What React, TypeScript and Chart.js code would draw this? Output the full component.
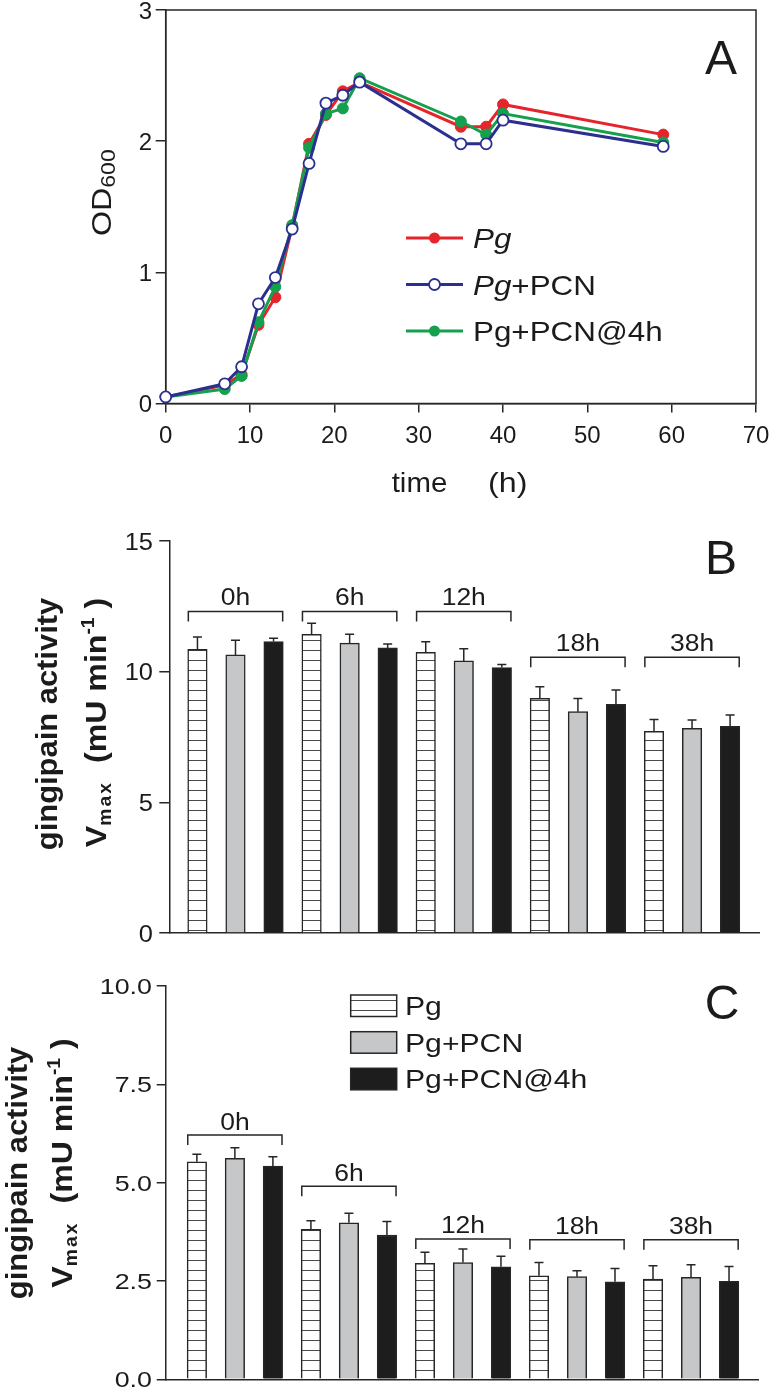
import React, { useEffect, useRef } from 'react';
import { Chart, registerables } from 'chart.js';
Chart.register(...registerables);

const FONT = "'Liberation Sans', Arial, Helvetica, sans-serif";
const INK = '#1b1b1b';
const AX = '#262626';
const RED = '#e5252b';
const BLUE = '#2b2f8f';
const GREEN = '#15a04e';
const GRAY = '#c6c7c8';
const BLACK = '#1d1d1d';

// ---------- Panel A: growth curves ----------
const timeHours = [0, 7, 9, 11, 13, 15, 17, 19, 21, 23, 35, 38, 40, 59];
const odPg = [0.05, 0.14, 0.22, 0.6, 0.81, 1.35, 1.98, 2.2, 2.38, 2.45, 2.11, 2.11, 2.28, 2.05];
const odPgPCN = [0.05, 0.15, 0.28, 0.76, 0.96, 1.33, 1.83, 2.29, 2.35, 2.45, 1.98, 1.98, 2.16, 1.96];
const odPgPCN4h = [0.05, 0.11, 0.21, 0.62, 0.89, 1.36, 1.95, 2.21, 2.25, 2.48, 2.15, 2.05, 2.21, 1.99];
const xTicksA = { min: 0, max: 70, step: 10 };
const yTicksA = { min: 0, max: 3, step: 1 };

// ---------- Panel B / C: gingipain activity ----------
const timeGroups = ['0h', '6h', '12h', '18h', '38h'];
const seriesNames = ['Pg', 'Pg+PCN', 'Pg+PCN@4h'];

const bPg = [10.85, 11.43, 10.74, 8.98, 7.72];
const bPgErr = [0.48, 0.42, 0.4, 0.44, 0.45];
const bPCN = [10.64, 11.09, 10.41, 8.47, 7.83];
const bPCNErr = [0.56, 0.34, 0.47, 0.5, 0.32];
const bPCN4h = [11.15, 10.91, 10.16, 8.75, 7.91];
const bPCN4hErr = [0.13, 0.15, 0.11, 0.55, 0.43];
const bBracketLevels = [12.3, 12.3, 12.3, 10.55, 10.55];

const cPg = [5.53, 3.81, 2.95, 2.63, 2.55];
const cPgErr = [0.19, 0.22, 0.28, 0.34, 0.34];
const cPCN = [5.62, 3.98, 2.97, 2.61, 2.59];
const cPCNErr = [0.27, 0.24, 0.34, 0.15, 0.32];
const cPCN4h = [5.42, 3.67, 2.86, 2.48, 2.49];
const cPCN4hErr = [0.24, 0.34, 0.27, 0.34, 0.38];
const cBracketLevels = [6.21, 4.91, 3.57, 3.55, 3.55];

type Run = { t: string; font: string; dy?: number; ls?: string };

function drawRuns(ctx: any, runs: Run[], x: number, y: number, align: string, sx = 1, rot = 0) {
  ctx.save();
  ctx.translate(x, y);
  if (rot) ctx.rotate(rot);
  ctx.scale(sx, 1);
  ctx.fillStyle = INK;
  ctx.textBaseline = 'alphabetic';
  ctx.textAlign = 'left';
  let total = 0;
  const widths: number[] = [];
  for (const r of runs) {
    ctx.font = r.font;
    ctx.letterSpacing = r.ls || '0px';
    const w = ctx.measureText(r.t).width;
    widths.push(w);
    total += w;
  }
  let cx = align === 'center' ? -total / 2 : align === 'right' ? -total : 0;
  runs.forEach((r, i) => {
    ctx.font = r.font;
    ctx.letterSpacing = r.ls || '0px';
    ctx.fillText(r.t, cx, r.dy || 0);
    cx += widths[i];
  });
  ctx.restore();
}

const tickGrid = (len: number) => ({
  display: true,
  drawOnChartArea: false,
  drawTicks: true,
  tickLength: len,
  color: AX,
  lineWidth: 1.5,
});
const axisBorder = { display: true, color: AX, width: 1.5 };

function configA() {
  const pts = (ys: number[]) => timeHours.map((t, i) => ({ x: t, y: ys[i] }));
  const common = { borderWidth: 3, pointRadius: 5.5, tension: 0, clip: false as any };
  const plugin = {
    id: 'panelA',
    beforeDatasetsDraw(chart: any) {
      const { ctx, chartArea: a } = chart;
      ctx.save();
      ctx.strokeStyle = AX;
      ctx.lineWidth = 1.5;
      ctx.strokeRect(a.left, a.top, a.right - a.left, a.bottom - a.top);
      ctx.restore();
    },
    afterDraw(chart: any) {
      const { ctx, scales } = chart;
      const x = scales.x;
      const y = scales.y;
      x.ticks.forEach((t: any) =>
        drawRuns(ctx, [{ t: String(t.value), font: `24px ${FONT}` }], x.getPixelForValue(t.value), 443, 'center')
      );
      y.ticks.forEach((t: any) =>
        drawRuns(ctx, [{ t: String(t.value), font: `24px ${FONT}` }], 152, y.getPixelForValue(t.value) + 8.6, 'right')
      );
      // axis titles
      drawRuns(ctx, [{ t: 'OD', font: `28px ${FONT}` }, { t: '600', font: `20px ${FONT}`, dy: 4 }], 111, 236, 'left', 1.15, -Math.PI / 2);
      drawRuns(ctx, [{ t: 'time', font: `28px ${FONT}` }], 391.7, 492, 'left', 1.05);
      drawRuns(ctx, [{ t: '(h)', font: `28px ${FONT}` }], 488, 492, 'left', 1.15);
      // panel letter
      drawRuns(ctx, [{ t: 'A', font: `48px ${FONT}` }], 721, 74, 'center');
      // legend
      const rows = [
        { y: 238, color: RED, hollow: false, runs: [{ t: 'Pg', font: `italic 28px ${FONT}` }] },
        { y: 284.5, color: BLUE, hollow: true, runs: [{ t: 'Pg', font: `italic 28px ${FONT}` }, { t: '+PCN', font: `28px ${FONT}` }] },
        { y: 331, color: GREEN, hollow: false, runs: [{ t: 'Pg+PCN@4h', font: `28px ${FONT}` }] },
      ];
      rows.forEach((r) => {
        ctx.save();
        ctx.strokeStyle = r.color;
        ctx.lineWidth = 3;
        ctx.beginPath();
        ctx.moveTo(406, r.y);
        ctx.lineTo(463, r.y);
        ctx.stroke();
        ctx.beginPath();
        ctx.arc(434.5, r.y, 5.5, 0, Math.PI * 2);
        ctx.fillStyle = r.hollow ? '#ffffff' : r.color;
        ctx.fill();
        if (r.hollow) {
          ctx.lineWidth = 1.8;
          ctx.stroke();
        }
        ctx.restore();
        drawRuns(ctx, r.runs, 473, r.y + 10, 'left', 1.12);
      });
    },
  };
  return {
    type: 'line',
    data: {
      datasets: [
        {
          label: 'Pg+PCN',
          data: pts(odPgPCN),
          borderColor: BLUE,
          backgroundColor: '#ffffff',
          pointBackgroundColor: '#ffffff',
          pointBorderColor: BLUE,
          pointBorderWidth: 1.8,
          order: 0,
          ...common,
        },
        {
          label: 'Pg+PCN@4h',
          data: pts(odPgPCN4h),
          borderColor: GREEN,
          backgroundColor: GREEN,
          pointBackgroundColor: GREEN,
          pointBorderColor: GREEN,
          pointBorderWidth: 1,
          order: 1,
          ...common,
        },
        {
          label: 'Pg',
          data: pts(odPg),
          borderColor: RED,
          backgroundColor: RED,
          pointBackgroundColor: RED,
          pointBorderColor: RED,
          pointBorderWidth: 1,
          order: 2,
          ...common,
        },
      ],
    },
    options: {
      responsive: false,
      animation: false,
      events: [],
      layout: { padding: { left: 0, right: 14, top: 10, bottom: 500 - 403.5 - 30 } },
      plugins: { legend: { display: false }, tooltip: { enabled: false } },
      scales: {
        x: {
          type: 'linear',
          min: xTicksA.min,
          max: xTicksA.max,
          ticks: { stepSize: xTicksA.step, display: false },
          grid: tickGrid(9),
          border: axisBorder,
          afterFit: (s: any) => {
            s.height = 30;
          },
        },
        y: {
          type: 'linear',
          min: yTicksA.min,
          max: yTicksA.max,
          ticks: { stepSize: yTicksA.step, display: false },
          grid: tickGrid(10),
          border: axisBorder,
          afterFit: (s: any) => {
            s.width = 165.7;
          },
        },
      },
    },
    plugins: [plugin],
  };
}

function makeHatch(ctx: any) {
  const c = document.createElement('canvas');
  c.width = 8;
  c.height = 10;
  const g = c.getContext('2d') as any;
  g.fillStyle = '#ffffff';
  g.fillRect(0, 0, 8, 10);
  g.fillStyle = '#4a4a4a';
  g.fillRect(0, 0, 8, 1);
  return ctx.createPattern(c, 'repeat');
}

type BarPanel = {
  letter: string;
  values: number[][];
  errors: number[][];
  brackets: number[];
  yMax: number;
  yStep: number;
  xMin: number;
  xMax: number;
  axisLeft: number;
  right: number;
  top: number;
  bottom: number;
  height: number;
  tickFont: number;
  tickSx: number;
  tickRight: number;
  tickLen: number;
  decimals: number;
  bracketGap: number;
  letterPos: number[];
  title1: number[];
  title2: number[];
  legend: boolean;
};

function configBar(p: BarPanel, ctx0: any) {
  const hatch = makeHatch(ctx0);
  const fills = [hatch, GRAY, BLACK];
  const plugin = {
    id: 'barPanel',
    afterDatasetsDraw(chart: any) {
      const { ctx, scales } = chart;
      const y = scales.y;
      ctx.save();
      ctx.strokeStyle = AX;
      ctx.lineWidth = 1.5;
      p.values.forEach((vals, si) => {
        const meta = chart.getDatasetMeta(si);
        vals.forEach((v, gi) => {
          const el = meta.data[gi];
          const top = y.getPixelForValue(v + p.errors[si][gi]);
          ctx.beginPath();
          ctx.moveTo(el.x, el.y);
          ctx.lineTo(el.x, top);
          ctx.moveTo(el.x - 4.5, top);
          ctx.lineTo(el.x + 4.5, top);
          ctx.stroke();
        });
      });
      ctx.restore();
    },
    afterDraw(chart: any) {
      const { ctx, scales } = chart;
      const x = scales.x;
      const y = scales.y;
      // y tick labels
      y.ticks.forEach((t: any) =>
        drawRuns(
          ctx,
          [{ t: t.value.toFixed(p.decimals), font: `${p.tickFont}px ${FONT}` }],
          p.tickRight,
          y.getPixelForValue(t.value) + p.tickFont * 0.36,
          'right',
          p.tickSx
        )
      );
      // brackets
      ctx.save();
      ctx.strokeStyle = AX;
      ctx.lineWidth = 1.5;
      timeGroups.forEach((g, gi) => {
        const xl = x.getPixelForValue(gi * 3 - 0.24);
        const xr = x.getPixelForValue(gi * 3 + 2.24);
        const yb = y.getPixelForValue(p.brackets[gi]);
        ctx.beginPath();
        ctx.moveTo(xl, yb + 10);
        ctx.lineTo(xl, yb);
        ctx.lineTo(xr, yb);
        ctx.lineTo(xr, yb + 10);
        ctx.stroke();
        drawRuns(ctx, [{ t: g, font: `23px ${FONT}` }], (xl + xr) / 2, yb - p.bracketGap, 'center', 1.15);
      });
      ctx.restore();
      // panel letter
      drawRuns(ctx, [{ t: p.letter, font: `48px ${FONT}` }], p.letterPos[0], p.letterPos[1], 'center');
      // y titles
      drawRuns(ctx, [{ t: 'gingipain activity', font: `bold 30px ${FONT}` }], p.title1[0], p.title1[1], 'center', 1.03, -Math.PI / 2);
      drawRuns(
        ctx,
        [
          { t: 'V', font: `bold 30px ${FONT}` },
          { t: 'max', font: `bold 18px ${FONT}`, dy: 5, ls: '2px' },
          { t: '  (mU min', font: `bold 30px ${FONT}` },
          { t: '-1', font: `bold 18px ${FONT}`, dy: -12 },
          { t: ' )', font: `bold 30px ${FONT}` },
        ],
        p.title2[0],
        p.title2[1],
        'center',
        1.07,
        -Math.PI / 2
      );
      // legend
      if (p.legend) {
        const tops = [45, 81.7, 118.3];
        seriesNames.forEach((name, i) => {
          ctx.save();
          ctx.fillStyle = fills[i];
          ctx.fillRect(350.7, tops[i], 46, 21.5);
          ctx.strokeStyle = AX;
          ctx.lineWidth = 1.5;
          ctx.strokeRect(350.7, tops[i], 46, 21.5);
          ctx.restore();
          drawRuns(ctx, [{ t: name, font: `26px ${FONT}` }], 405, tops[i] + 10.75 + 9.4, 'left', 1.16);
        });
      }
    },
  };
  return {
    type: 'bar',
    data: {
      datasets: p.values.map((vals, si) => ({
        label: seriesNames[si],
        data: vals.map((v, gi) => ({ x: gi * 3 + si, y: v })),
        backgroundColor: fills[si],
        borderColor: AX,
        borderWidth: 1.5,
        barThickness: 19.5,
        grouped: false,
      })),
    },
    options: {
      responsive: false,
      animation: false,
      events: [],
      layout: { padding: { left: 0, right: 770 - p.right, top: p.top, bottom: p.height - p.bottom - 5 } },
      plugins: { legend: { display: false }, tooltip: { enabled: false } },
      scales: {
        x: {
          type: 'linear',
          min: p.xMin,
          max: p.xMax,
          offset: false,
          ticks: { display: false },
          grid: { display: false, offset: false },
          border: axisBorder,
          afterFit: (s: any) => {
            s.height = 5;
          },
        },
        y: {
          type: 'linear',
          min: 0,
          max: p.yMax,
          ticks: { stepSize: p.yStep, display: false },
          grid: tickGrid(p.tickLen),
          border: axisBorder,
          afterFit: (s: any) => {
            s.width = p.axisLeft;
          },
        },
      },
    },
    plugins: [plugin],
  };
}

const panelB: BarPanel = {
  letter: 'B',
  values: [bPg, bPCN, bPCN4h],
  errors: [bPgErr, bPCNErr, bPCN4hErr],
  brackets: bBracketLevels,
  yMax: 15,
  yStep: 5,
  xMin: -0.74,
  xMax: 14.76,
  axisLeft: 169.3,
  right: 759,
  top: 41,
  bottom: 433,
  height: 450,
  tickFont: 24,
  tickSx: 1.06,
  tickRight: 153,
  tickLen: 10,
  decimals: 0,
  bracketGap: 6.7,
  letterPos: [721, 74],
  title1: [57, 224],
  title2: [106, 222.5],
  legend: false,
};

const panelC: BarPanel = {
  letter: 'C',
  values: [cPg, cPCN, cPCN4h],
  errors: [cPgErr, cPCNErr, cPCN4hErr],
  brackets: cBracketLevels,
  yMax: 10,
  yStep: 2.5,
  xMin: -0.82,
  xMax: 14.77,
  axisLeft: 165.7,
  right: 758.3,
  top: 36,
  bottom: 429.3,
  height: 439,
  tickFont: 22,
  tickSx: 1.22,
  tickRight: 152,
  tickLen: 9,
  decimals: 1,
  bracketGap: 5.5,
  letterPos: [722, 68.8],
  title1: [27, 223],
  title2: [72, 213],
  legend: true,
};

function ChartCanvas({ make, top, height }: { make: (ctx: any) => any; top: number; height: number }) {
  const ref = useRef<HTMLCanvasElement | null>(null);
  useEffect(() => {
    const cv = ref.current as HTMLCanvasElement;
    const chart = new Chart(cv, make(cv.getContext('2d')));
    return () => chart.destroy();
  }, []);
  return (
    <canvas
      ref={ref}
      width={770}
      height={height}
      style={{ position: 'absolute', left: 0, top, width: 770, height, display: 'block' }}
    />
  );
}

export default function App() {
  return (
    <div
      style={{
        position: 'absolute',
        left: 0,
        top: 0,
        width: 770,
        height: 1389,
        overflow: 'hidden',
        background: '#ffffff',
      }}
    >
      <ChartCanvas make={() => configA()} top={0} height={500} />
      <ChartCanvas make={(ctx) => configBar(panelB, ctx)} top={500} height={450} />
      <ChartCanvas make={(ctx) => configBar(panelC, ctx)} top={950} height={439} />
    </div>
  );
}
